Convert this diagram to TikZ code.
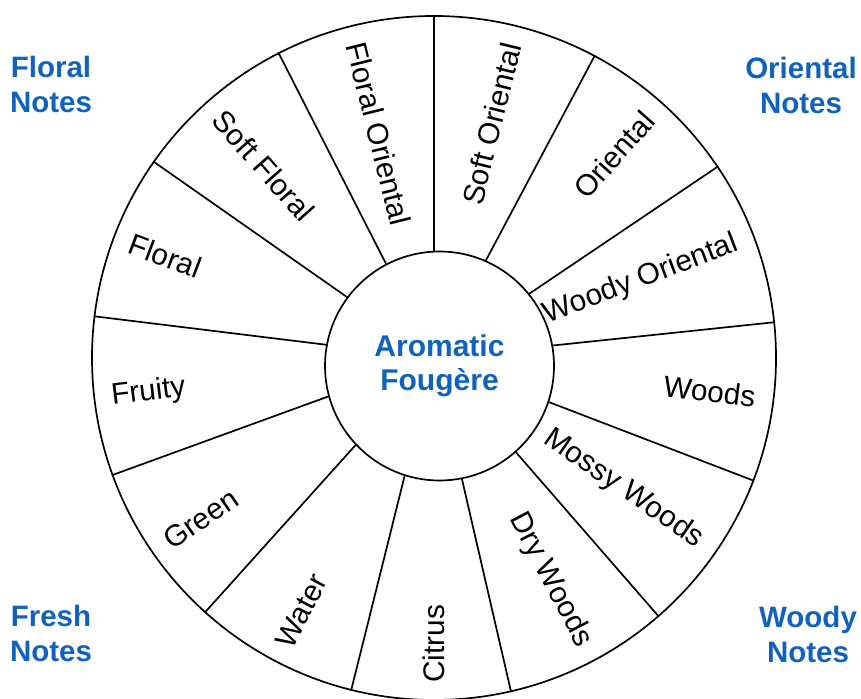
\documentclass[tikz,border=0pt]{standalone}
\usepackage{fontspec}
\setmainfont{Liberation Sans}
\usetikzlibrary{calc}
\definecolor{nblue}{RGB}{16,98,190}
\begin{document}
\begin{tikzpicture}[x=1pt,y=1pt,
  seg/.style={line width=1.7pt},
  lab/.style={font=\fontsize{29.8}{35}\selectfont, inner sep=0pt},
  corner/.style={font=\fontsize{29.5}{35}\selectfont\bfseries, text=nblue, align=center, inner sep=0pt}]
\useasboundingbox (0,0) rectangle (861,698);
\coordinate (C) at (434,340);
\node[circle, draw, line width=1.7pt, minimum size=684pt, inner sep=0pt] (wheel) at (C) {};
\foreach \i in {0,...,12} {
  \pgfmathsetmacro{\a}{90+\i*360/13}
  \draw[seg] (C) -- (wheel.\a);
}
\node[circle, draw, fill=white, line width=1.7pt, minimum size=229pt, inner sep=0pt,
  font=\fontsize{30}{34}\selectfont\bfseries, align=center, text=nblue] (hub) at (439.5,332) {Aromatic\\Fougère};
% labels reading inward (start at outer rim)
\foreach \k/\t in {0/Floral Oriental,1/Soft Floral,2/Floral,3/Fruity,4/Green,5/Water,6/Citrus} {
  \pgfmathsetmacro{\m}{90+(\k+0.5)*360/13}
  \pgfmathsetmacro{\r}{\m-180}
  \node[lab, anchor=west, rotate=\r] (l\k) at ($(C)+(\m:325)$) {\t};
}
% labels reading outward (end at outer rim)
\foreach \k/\t in {7/Dry Woods,8/Mossy Woods,9/Woods,10/Woody Oriental,11/Oriental,12/Soft Oriental} {
  \pgfmathsetmacro{\m}{90+(\k+0.5)*360/13}
  \node[lab, anchor=east, rotate=\m] (l\k) at ($(C)+(\m:324)$) {\t};
}
\node[corner] (fl) at (51,614) {Floral\\Notes};
\node[corner] (or) at (801,613) {Oriental\\Notes};
\node[corner] (fr) at (51,64.5) {Fresh\\Notes};
\node[corner] (wo) at (808,64) {Woody\\Notes};
\end{tikzpicture}
\end{document}
